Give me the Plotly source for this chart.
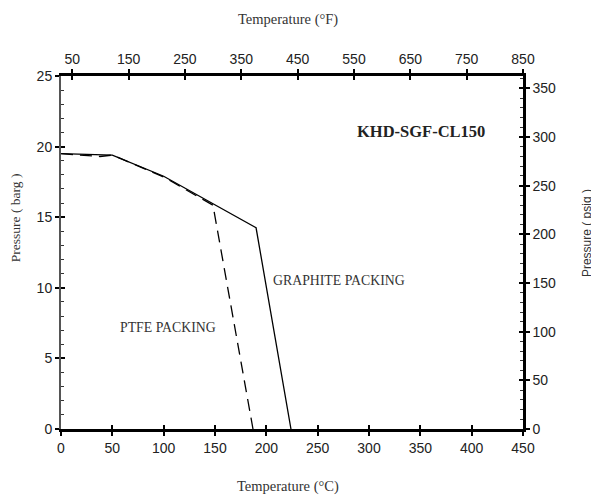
import plotly.graph_objects as go

# Data
graphite_t = [0, 50, 100, 150, 190, 224]
graphite_p = [19.5, 19.4, 17.9, 15.9, 14.25, 0]
ptfe_t = [0, 20, 38, 50, 100, 148, 187]
ptfe_p = [19.5, 19.4, 19.3, 19.4, 17.85, 15.85, 0]

c_range = [0, 450]
f_range = [30, 850]
barg_range = [0, 25]
psig_range = [0, 25 * 14.5038]

title_text = "KHD-SGF-CL150"
graphite_label = "GRAPHITE PACKING"
ptfe_label = "PTFE PACKING"

serif = "Liberation Serif"
sans = "Liberation Sans, Arial"

fig = go.Figure()
fig.add_trace(go.Scatter(x=graphite_t, y=graphite_p, mode="lines",
                         line=dict(color="black", width=1.3), showlegend=False, hoverinfo="skip"))
fig.add_trace(go.Scatter(x=ptfe_t, y=ptfe_p, mode="lines",
                         line=dict(color="black", width=1.3, dash="12px,7px"), showlegend=False, hoverinfo="skip"))
# helper traces to anchor overlay axes
for xa, ya in [("x2", "y"), ("x3", "y"), ("x4", "y"), ("x", "y2"), ("x", "y3"), ("x", "y4")]:
    fig.add_trace(go.Scatter(x=[None], y=[None], xaxis=xa, yaxis=ya, showlegend=False, hoverinfo="skip"))

tickfont = dict(family=sans, size=14, color="#222")
common = dict(showgrid=False, zeroline=False, ticklen=4, tickwidth=1.5, tickcolor="black")

fig.update_layout(
    width=591, height=495,
    margin=dict(l=61, r=68, t=76, b=66),
    paper_bgcolor="white", plot_bgcolor="white",
    xaxis=dict(range=c_range, tick0=0, dtick=50, ticks="outside", showline=True,
               linecolor="black", linewidth=2.5, tickfont=tickfont, anchor="y", **common),
    xaxis3=dict(range=c_range, tick0=0, dtick=50, ticks="inside", showline=False,
                showticklabels=False, overlaying="x", side="bottom", anchor="y", **common),
    xaxis2=dict(range=f_range, tick0=50, dtick=100, ticks="outside", showline=True,
                linecolor="black", linewidth=2.5, tickfont=tickfont, overlaying="x",
                side="top", anchor="y", **common),
    xaxis4=dict(range=f_range, tick0=50, dtick=100, ticks="inside", showline=False,
                showticklabels=False, overlaying="x", side="top", anchor="y", **common),
    yaxis=dict(range=barg_range, tick0=0, dtick=5, ticks="outside", showline=True,
               linecolor="#555", linewidth=2, tickfont=tickfont, anchor="x", **common),
    yaxis3=dict(range=barg_range, tick0=0, dtick=5, ticks="inside", showline=False,
                showticklabels=False, overlaying="y", side="left", anchor="x",
                minor=dict(ticks="inside", dtick=1, ticklen=3, tickcolor="#333", tickwidth=1),
                **common),
    yaxis2=dict(range=psig_range, tick0=0, dtick=50, ticks="outside", showline=True,
                linecolor="black", linewidth=2.5, tickfont=tickfont, overlaying="y",
                side="right", anchor="x", **common),
    yaxis4=dict(range=psig_range, tick0=0, dtick=50, ticks="inside", showline=False,
                showticklabels=False, overlaying="y", side="right", anchor="x",
                minor=dict(ticks="inside", dtick=10, ticklen=3, tickcolor="#333", tickwidth=1),
                **common),
)

anchor = dict(xanchor="center", yanchor="middle", showarrow=False)
annots = [
    dict(text="<b>" + title_text + "</b>", x=350.6, y=21.1, xref="x", yref="y",
         font=dict(family=serif, size=16.5, color="#222"), **anchor),
    dict(text=graphite_label, x=270.8, y=10.55, xref="x", yref="y",
         font=dict(family=serif, size=13.8, color="#333"), **anchor),
    dict(text=ptfe_label, x=104.2, y=7.2, xref="x", yref="y",
         font=dict(family=serif, size=13.8, color="#333"), **anchor),
    dict(text="Temperature (°F)", x=0.491, y=1.161, xref="paper", yref="paper",
         font=dict(family=serif, size=14.5, color="#333"), **anchor),
    dict(text="Temperature (°C)", x=0.491, y=-0.164, xref="paper", yref="paper",
         font=dict(family=serif, size=14.5, color="#333"), **anchor),
    dict(text="Pressure ( barg )", x=-0.0996, y=0.6, xref="paper", yref="paper",
         textangle=-90, font=dict(family=serif, size=13.5, color="#333"), **anchor),
    dict(text="Pressure ( psig )", x=1.1385, y=0.555, xref="paper", yref="paper",
         textangle=-90, font=dict(family=sans, size=12, color="#333"), **anchor),
]
fig.update_layout(annotations=annots)

fig.write_html("out.html", config={"displayModeBar": False},
               post_script="document.body.style.margin='0';document.documentElement.style.overflow='hidden';document.body.style.overflow='hidden';")
